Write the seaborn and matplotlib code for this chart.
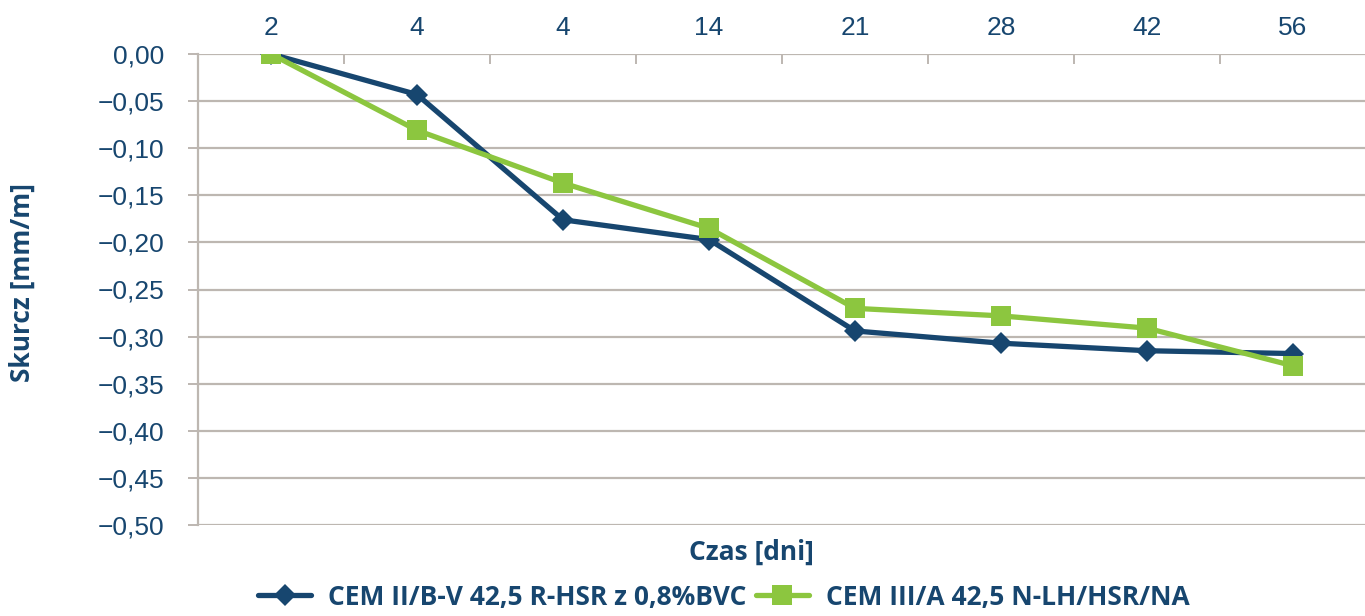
import numpy as np
import pandas as pd
import matplotlib
matplotlib.use("Agg")
import matplotlib.pyplot as plt
import seaborn as sns

# data
days = ["2", "4", "4", "14", "21", "28", "42", "56"]
cem_ii = [0.000, -0.043, -0.176, -0.197, -0.294, -0.307, -0.315, -0.318]
cem_iii = [0.000, -0.081, -0.137, -0.185, -0.270, -0.278, -0.291, -0.331]
label_ii = "CEM II/B-V 42,5 R-HSR z 0,8%BVC"
label_iii = "CEM III/A 42,5 N-LH/HSR/NA"
yticks = np.round(np.arange(0, -0.51, -0.05), 2)

blue = "#17466f"
green = "#8cc63f"
grid = "#bdb7b1"

sns.set_theme(style="white")
plt.rcParams["font.family"] = ["Liberation Sans", "DejaVu Sans"]
bold_font = ["Open Sans", "DejaVu Sans"]

fig = plt.figure(figsize=(13.65, 6.16), dpi=100)
ax = fig.add_axes([198 / 1365, 1 - 525 / 616, 1168 / 1365, 471 / 616])

pos = np.arange(len(days))
sns.lineplot(x=pos, y=cem_ii, ax=ax, color=blue, linewidth=3.8, marker="D",
             markersize=11, markeredgewidth=0, label=label_ii)
sns.lineplot(x=pos, y=cem_iii, ax=ax, color=green, linewidth=3.8, marker="s",
             markersize=14, markeredgewidth=0, label=label_iii)
ax.lines[1].set_zorder(3)
ax.lines[0].set_zorder(2)

ax.set_xlim(-0.5, len(days) - 0.5)
ax.set_ylim(-0.5, 0.0)
ax.set_yticks(yticks)
ax.set_yticklabels([f"{v:.2f}".replace(".", ",").replace("-", "\u2212") for v in yticks])
for v in yticks:
    ax.axhline(v, color=grid, linewidth=1.6, zorder=0)

ax.xaxis.tick_top()
ax.set_xticks(pos)
ax.set_xticklabels(days)
ax.set_xticks(np.arange(-0.5, len(days), 1.0), minor=True)
ax.tick_params(axis="x", which="major", length=0, pad=10, labelsize=19, labelcolor=blue)
ax.tick_params(axis="x", which="minor", direction="in", length=7, width=1.4, color=grid)
ax.tick_params(axis="y", which="major", direction="out", length=7, width=1.4, color=grid,
               left=True, labelsize=19, labelcolor=blue, pad=17)

for s in ["top", "right", "bottom"]:
    ax.spines[s].set_visible(False)
ax.spines["left"].set_color(grid)
ax.spines["left"].set_linewidth(1.6)
ax.set_xlabel("")
ax.set_ylabel("")

fig.text(22 / 1365, 1 - 283 / 616, "Skurcz [mm/m]", rotation=90, ha="center", va="center",
         fontsize=19, fontweight="bold", color=blue, family=bold_font)
fig.text(751 / 1365, 1 - 552 / 616, "Czas [dni]", ha="center", va="center",
         fontsize=19, fontweight="bold", color=blue, family=bold_font)

ax.legend_.remove()
handles, labels = ax.get_legend_handles_labels()
leg = fig.legend(handles, labels, loc="center", bbox_to_anchor=(724 / 1365, 1 - 597 / 616),
                 ncol=2, frameon=False, prop={"family": bold_font, "size": 19, "weight": "bold"},
                 handlelength=2.0, columnspacing=0.35, handletextpad=0.65,
                 borderpad=0.0, borderaxespad=0.0)
for t in leg.get_texts():
    t.set_color(blue)

fig.savefig("out.png", dpi=100)
